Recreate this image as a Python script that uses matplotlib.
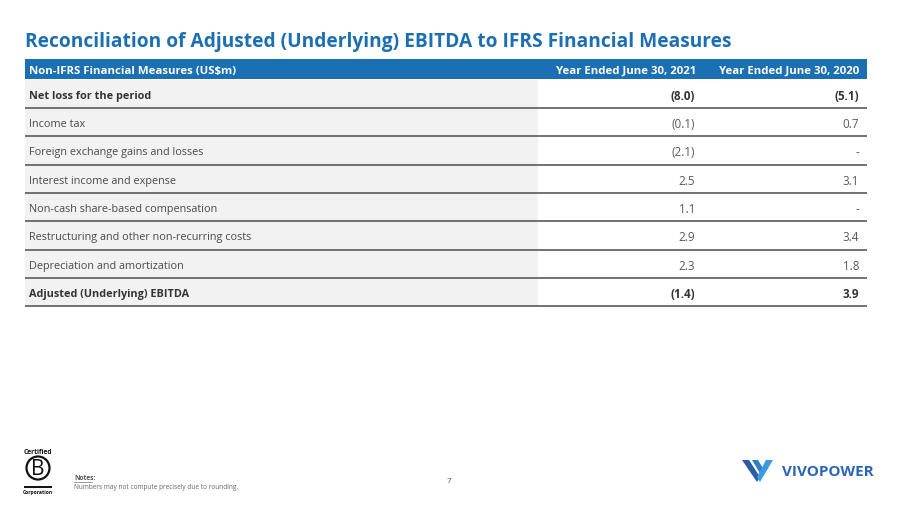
import numpy as np
import matplotlib
matplotlib.use("Agg")
import matplotlib.pyplot as plt
from matplotlib.patches import Rectangle, Circle, Polygon

plt.rcParams['font.family'] = ['Open Sans', 'DejaVu Sans']

TITLE = 'Reconciliation of Adjusted (Underlying) EBITDA to IFRS Financial Measures'
HEADERS = ['Non-IFRS Financial Measures (US$m)', 'Year Ended June 30, 2021', 'Year Ended June 30, 2020']
labels = ['Net loss for the period', 'Income tax', 'Foreign exchange gains and losses',
          'Interest income and expense', 'Non-cash share-based compensation',
          'Restructuring and other non-recurring costs', 'Depreciation and amortization',
          'Adjusted (Underlying) EBITDA']
fy2021 = [-8.0, -0.1, -2.1, 2.5, 1.1, 2.9, 2.3, -1.4]
fy2020 = [-5.1, 0.7, None, 3.1, None, 3.4, 1.8, 3.9]
bold_rows = [0, 7]


def fmt(v):
    if v is None:
        return '-'
    return f'({abs(v):.1f})' if v < 0 else f'{v:.1f}'


BLUE = '#1b6fb3'
fig = plt.figure(figsize=(9, 5.06), dpi=100)
ax = fig.add_axes([0, 0, 1, 1])
ax.set_xlim(0, 900); ax.set_ylim(506, 0); ax.axis('off')

ax.text(25, 42, TITLE, fontsize=13.8, fontweight='bold', color=BLUE, va='center', ha='left')

# header bar
left, right = 25, 867
ax.add_patch(Rectangle((left, 60), right - left, 20, color=BLUE, lw=0))
ax.text(29, 71, HEADERS[0], fontsize=8.2, fontweight='bold', color='white', va='center')
ax.text(696, 71, HEADERS[1], fontsize=8.2, fontweight='bold', color='white', va='center', ha='right')
ax.text(859, 71, HEADERS[2], fontsize=8.2, fontweight='bold', color='white', va='center', ha='right')

top, rh = 80.5, 28.35
for i, lab in enumerate(labels):
    y0 = top + i * rh
    ax.add_patch(Rectangle((left, y0), 538 - left, rh, color='#f2f2f2', lw=0))
    b = i in bold_rows
    fw = 'bold' if b else 'normal'
    col = '#333333' if b else '#4a4a4a'
    ncol = '#333333' if b else '#5a5a5a'
    yc = y0 + rh / 2 + 1.5
    ax.text(29, yc, lab, fontsize=7.8, fontweight=fw, color=col, va='center')
    ax.text(695, yc, fmt(fy2021[i]), fontsize=8.4, fontweight=fw, color=ncol, va='center', ha='right')
    ax.text(859, yc, fmt(fy2020[i]), fontsize=8.4, fontweight=fw, color=ncol, va='center', ha='right')
    ax.plot([left, right], [y0 + rh, y0 + rh], color='#666666', lw=1.3, solid_capstyle='butt')

# footer
ax.text(449, 482, '7', fontsize=6, color='#555555', ha='center', va='center')
ax.text(74, 479, 'Notes:', fontsize=4.8, fontweight='bold', color='#555555', va='center')
ax.plot([74, 92], [482.5, 482.5], color='#777777', lw=0.5)
ax.text(74, 488, 'Numbers may not compute precisely due to rounding.', fontsize=4.7, color='#666666', va='center')

# B corp mark
ax.text(38, 453, 'Certified', fontsize=4.8, fontweight='bold', color='#111111', ha='center', va='center')
ax.add_patch(Circle((38, 469), 11.5, fill=False, ec='#111111', lw=1.6))
ax.text(38, 469.5, 'B', fontsize=15, color='#111111', ha='center', va='center')
ax.plot([25, 51], [487.5, 487.5], color='#111111', lw=1.4)
ax.text(38, 493, 'Corporation', fontsize=3.6, fontweight='bold', color='#111111', ha='center', va='center')

# VivoPower mark
ax.add_patch(Polygon([[742, 461], [749, 461], [760, 478], [757, 483]], color='#2d5aa8', lw=0))
ax.add_patch(Polygon([[752, 461], [758, 461], [764, 471], [761, 476]], color='#2f7ec6', lw=0))
ax.add_patch(Polygon([[766, 461], [773, 461], [760, 483], [757, 478]], color='#3a9be0', lw=0))
ax.text(782, 472, 'VIVOPOWER', fontsize=11, fontweight='bold', color='#2a65b8', va='center')

fig.savefig('out.png', dpi=100)
